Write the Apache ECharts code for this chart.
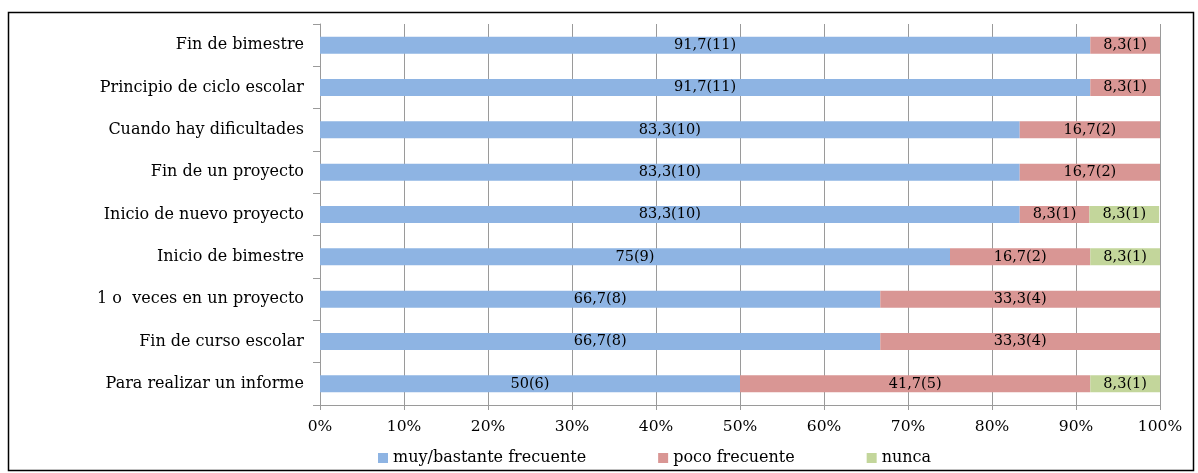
<!DOCTYPE html>
<html>
<head>
<meta charset="utf-8">
<script src="https://cdn.jsdelivr.net/npm/echarts@6/dist/echarts.min.js"></script>
<style>
  html, body { margin: 0; padding: 0; background: #fff; }
  #chart { width: 1198px; height: 473px; }
</style>
</head>
<body>
<div id="chart"></div>
<script>
// Momentos de evaluación (top to bottom)
const categories = [
  'Fin de bimestre',
  'Principio de ciclo escolar',
  'Cuando hay dificultades',
  'Fin de un proyecto',
  'Inicio de nuevo proyecto',
  'Inicio de bimestre',
  '1 o  veces en un proyecto',
  'Fin de curso escolar',
  'Para realizar un informe'
];
const seriesNames = ['muy/bastante frecuente', 'poco frecuente', 'nunca'];
const pctMuy   = [91.7, 91.7, 83.3, 83.3, 83.3, 75, 66.7, 66.7, 50];
const pctPoco  = [8.3, 8.3, 16.7, 16.7, 8.3, 16.7, 33.3, 33.3, 41.7];
const pctNunca = [0, 0, 0, 0, 8.3, 8.3, 0, 0, 8.3];
const nMuy   = [11, 11, 10, 10, 10, 9, 8, 8, 6];
const nPoco  = [1, 1, 2, 2, 1, 2, 4, 4, 5];
const nNunca = [0, 0, 0, 0, 1, 1, 0, 0, 1];
const xTicks = [0, 10, 20, 30, 40, 50, 60, 70, 80, 90, 100];

const colors = ['#8EB4E3', '#D99694', '#C3D69B'];
const FONT = 'DejaVu Serif';

function makeSeries(name, pcts, counts, color) {
  return {
    name: name,
    type: 'bar',
    stack: 'total',
    barWidth: '40%',
    itemStyle: { color: color },
    data: pcts.map((v, i) => ({ value: v, count: counts[i] })),
    label: {
      show: true,
      position: 'inside',
      color: '#000',
      fontFamily: FONT,
      fontSize: 14.5,
      formatter: p => p.value > 0
        ? String(p.value).replace('.', ',') + '(' + p.data.count + ')'
        : ''
    }
  };
}

const chart = echarts.init(document.getElementById('chart'), null, { renderer: 'canvas' });
chart.setOption({
  animation: false,
  textStyle: { fontFamily: FONT },
  grid: { left: 320, right: 38, top: 24, bottom: 68, containLabel: false },
  xAxis: {
    type: 'value',
    min: 0,
    max: 100,
    interval: 10,
    axisLine: { show: true, lineStyle: { color: '#9A9A9A' } },
    axisTick: { show: true, length: 5, lineStyle: { color: '#9A9A9A' } },
    splitLine: { show: true, lineStyle: { color: '#9A9A9A', width: 1 } },
    axisLabel: {
      color: '#000',
      fontFamily: FONT,
      fontSize: 15.5,
      margin: 14,
      formatter: v => (xTicks.includes(v) ? v + '%' : '')
    }
  },
  yAxis: {
    type: 'category',
    inverse: true,
    data: categories,
    axisLine: { show: true, lineStyle: { color: '#9A9A9A' } },
    axisTick: { show: true, length: 7, lineStyle: { color: '#9A9A9A' } },
    axisLabel: { color: '#000', fontFamily: FONT, fontSize: 16, margin: 16 }
  },
  legend: {
    bottom: 2,
    left: 373,
    itemWidth: 10,
    itemHeight: 10,
    itemGap: 72,
    icon: 'rect',
    textStyle: { color: '#000', fontFamily: FONT, fontSize: 16 },
    data: seriesNames
  },
  graphic: [{
    type: 'rect',
    shape: { x: 8.5, y: 12.5, width: 1185, height: 458 },
    style: { fill: 'none', stroke: '#000', lineWidth: 1.5 },
    silent: true,
    z: -1
  }],
  series: [
    makeSeries(seriesNames[0], pctMuy, nMuy, colors[0]),
    makeSeries(seriesNames[1], pctPoco, nPoco, colors[1]),
    makeSeries(seriesNames[2], pctNunca, nNunca, colors[2])
  ]
});
</script>
</body>
</html>
